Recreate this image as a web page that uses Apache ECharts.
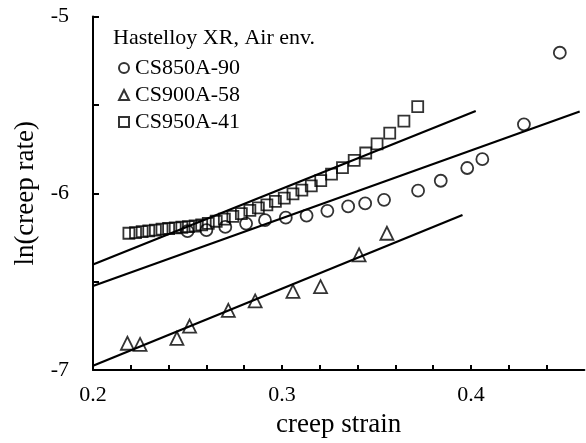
<!DOCTYPE html>
<html>
<head>
<meta charset="utf-8">
<script src="https://cdn.jsdelivr.net/npm/echarts@6/dist/echarts.min.js"></script>
<style>
html,body{margin:0;padding:0;background:#fff;}
#chart{width:586px;height:443px;}
</style>
</head>
<body>
<div id="chart"></div>
<script>
// ---- data (creep strain, ln(creep rate)) ----
const seriesNames = ['CS850A-90', 'CS900A-58', 'CS950A-41'];
const chartTitle = 'Hastelloy XR, Air env.';
const xTickLabels = ['0.2', '0.3', '0.4'];
const yTickLabels = ['-5', '-6', '-7'];

const cs850 = [
  [0.250,-6.214],[0.260,-6.208],[0.270,-6.190],[0.281,-6.171],[0.291,-6.152],
  [0.302,-6.138],[0.313,-6.126],[0.324,-6.099],[0.335,-6.074],[0.344,-6.057],
  [0.354,-6.037],[0.372,-5.985],[0.384,-5.929],[0.398,-5.857],[0.406,-5.807],
  [0.428,-5.610],[0.447,-5.205]
];
const cs900 = [
  [0.2182,-6.848],[0.2249,-6.855],[0.2444,-6.820],[0.2511,-6.751],[0.2716,-6.662],
  [0.2858,-6.609],[0.3058,-6.555],[0.3204,-6.528],[0.3408,-6.348],[0.3555,-6.226]
];
const cs950 = [
  [0.2190,-6.226],[0.2225,-6.222],[0.2260,-6.217],[0.2295,-6.213],[0.2330,-6.208],
  [0.2365,-6.203],[0.2400,-6.199],[0.2435,-6.195],[0.2470,-6.192],[0.2505,-6.189],
  [0.2540,-6.185],[0.2575,-6.179],[0.2610,-6.170],[0.2652,-6.158],[0.2695,-6.146],
  [0.2740,-6.130],[0.2785,-6.115],[0.2830,-6.097],[0.2875,-6.082],[0.2920,-6.065],
  [0.2965,-6.046],[0.3012,-6.027],[0.3058,-6.003],[0.3105,-5.982],[0.3155,-5.958],
  [0.3205,-5.928],[0.3262,-5.891],[0.3320,-5.855],[0.3382,-5.814],[0.3443,-5.772],
  [0.3503,-5.721],[0.3570,-5.660],[0.3645,-5.592],[0.3718,-5.510]
];
// fitted lines (end points)
const fit850 = [[0.2,-6.524],[0.4575,-5.537]];
const fit900 = [[0.2,-6.975],[0.3955,-6.123]];
const fit950 = [[0.2,-6.403],[0.4025,-5.534]];

const FONT = '"Liberation Serif", "DejaVu Serif", serif';
const INK = '#000';

function fmtX(v) {
  for (const t of xTickLabels) if (Math.abs(parseFloat(t) - v) < 1e-6) return t;
  return '';
}
function fmtY(v) {
  for (const t of yTickLabels) if (Math.abs(parseFloat(t) - v) < 1e-6) return t;
  return '';
}

const markerStyle = {color: 'rgba(0,0,0,0)', borderColor: INK, borderWidth: 1.8};
function scatter(name, data, symbol, size) {
  return {
    name: name, type: 'scatter', data: data, symbol: symbol, symbolSize: size,
    itemStyle: markerStyle, z: 3, silent: true
  };
}
function fitLine(data) {
  return {
    type: 'line', data: data, symbol: 'none', silent: true, z: 2,
    lineStyle: {color: INK, width: 2.2}
  };
}

const chart = echarts.init(document.getElementById('chart'), null, {renderer: 'canvas'});
chart.setOption({
  animation: false,
  backgroundColor: '#fff',
  title: {
    text: chartTitle, left: 108, top: 22,
    textStyle: {fontFamily: FONT, fontSize: 22, fontWeight: 'normal', color: INK}
  },
  legend: {
    data: [
      {name: seriesNames[0], icon: 'circle'},
      {name: seriesNames[1], icon: 'triangle'},
      {name: seriesNames[2], icon: 'rect'}
    ],
    orient: 'vertical', left: 113, top: 52, itemWidth: 10, itemHeight: 10, itemGap: 5,
    textStyle: {fontFamily: FONT, fontSize: 22, color: INK, padding: [0, 0, 0, 1]},
    selectedMode: false,
    itemStyle: {color: 'rgba(0,0,0,0)', borderColor: INK, borderWidth: 2}
  },
  grid: {left: 93, right: 1.6, top: 16.5, bottom: 67.5, containLabel: false},
  xAxis: {
    type: 'value', min: 0.2, max: 0.46, interval: 0.02,
    name: 'creep strain', nameLocation: 'middle', nameGap: 40,
    nameTextStyle: {fontFamily: FONT, fontSize: 27, color: INK},
    axisLine: {show: true, lineStyle: {color: INK, width: 2}},
    axisTick: {show: true, inside: true, length: 5, lineStyle: {color: INK, width: 2}},
    axisLabel: {formatter: fmtX, fontFamily: FONT, fontSize: 22, color: INK, margin: 14, showMaxLabel: false},
    splitLine: {show: false}
  },
  yAxis: {
    type: 'value', min: -7, max: -5, interval: 0.5,
    name: 'ln(creep rate)', nameLocation: 'middle', nameGap: 51,
    nameTextStyle: {fontFamily: FONT, fontSize: 27, color: INK},
    axisLine: {show: true, onZero: false, lineStyle: {color: INK, width: 2}},
    axisTick: {show: true, inside: true, length: 6, lineStyle: {color: INK, width: 2}},
    axisLabel: {formatter: fmtY, fontFamily: FONT, fontSize: 22, color: INK, margin: 24},
    splitLine: {show: false}
  },
  series: [
    scatter(seriesNames[0], cs850, 'circle', 12),
    scatter(seriesNames[1], cs900, 'triangle', 13),
    scatter(seriesNames[2], cs950, 'rect', 11),
    fitLine(fit850),
    fitLine(fit900),
    fitLine(fit950)
  ]
});
</script>
</body>
</html>
